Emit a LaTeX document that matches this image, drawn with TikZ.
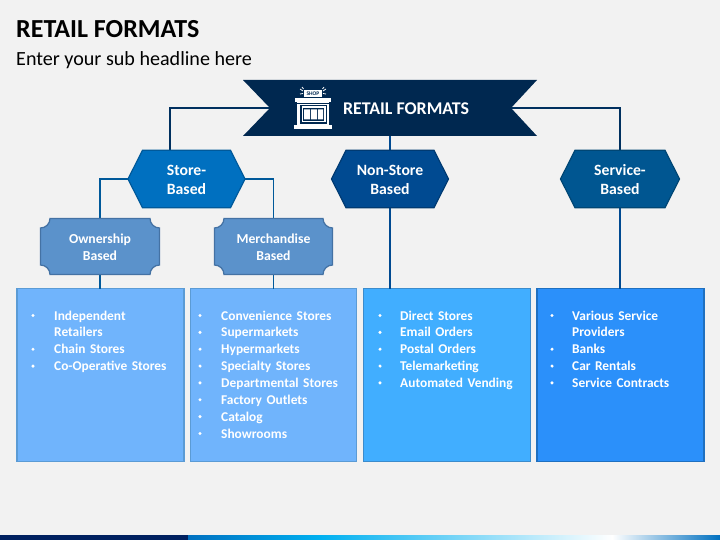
\documentclass[tikz,border=0pt]{standalone}
\usepackage{fontspec}
\setmainfont{Carlito}
\usetikzlibrary{calc}
\definecolor{bg}{HTML}{F2F2F2}
\definecolor{navy}{HTML}{002850}
\definecolor{linenavy}{HTML}{00305F}
\definecolor{hexA}{HTML}{0070C0}
\definecolor{hexAb}{HTML}{00599A}
\definecolor{hexB}{HTML}{004A91}
\definecolor{hexBb}{HTML}{003A72}
\definecolor{hexC}{HTML}{005691}
\definecolor{hexCb}{HTML}{004674}
\definecolor{plq}{HTML}{5B92CB}
\definecolor{plqb}{HTML}{4472A4}
\definecolor{boxA}{HTML}{70B4FC}
\definecolor{boxAb}{HTML}{5B9BD5}
\definecolor{boxC}{HTML}{41AEFF}
\definecolor{boxCb}{HTML}{3C8CCC}
\definecolor{boxD}{HTML}{2B90FA}
\definecolor{boxDb}{HTML}{1F70C0}
\definecolor{barnavy}{HTML}{002060}
\definecolor{barblue}{HTML}{0070C0}
\definecolor{barsky}{HTML}{00B0F0}
\tikzset{
  x=1pt,y=-1pt,
  label text/.style={text=white,font=\bfseries,align=center,inner sep=0pt,outer sep=0pt},
  hexlabel/.style={label text,font=\fontsize{15.7}{18.5}\selectfont\bfseries,minimum width=117pt,minimum height=57.5pt},
  plqlabel/.style={label text,font=\fontsize{13.7}{17}\selectfont\bfseries,minimum width=118pt,minimum height=56pt},
  listbox/.style={draw=#1,line width=1.6pt,minimum height=173pt,inner sep=0pt,outer sep=0pt,anchor=north west},
  connA/.style={draw=linenavy,line width=1.5pt},
  connB/.style={draw=hexAb,line width=1.5pt},
  connC/.style={draw=hexB,line width=1.5pt},
  itemtxt/.style={text=white,font=\fontsize{13.4}{16.85}\selectfont\bfseries,align=left,anchor=north west,inner sep=0pt,text width=#1},
  itemtxt/.default=140pt,
  icon/.style={fill=white,draw=none}
}
\newcommand{\hexshape}[3]{% node, fill, border
  \fill[#2,draw=#3,line width=1.2pt] (#1.west) -- ($(#1.north west)+(14.5,0)$) -- ($(#1.north east)+(-14.5,0)$) -- (#1.east) -- ($(#1.south east)+(-14.5,0)$) -- ($(#1.south west)+(14.5,0)$) -- cycle;}
\newcommand{\plqshape}[1]{%
  \fill[plq,draw=plqb,line width=1.2pt]
   ($(#1.north west)+(9.5,0)$) -- ($(#1.north east)+(-9.5,0)$)
   arc[start angle=180,end angle=270,radius=9.5pt]
   -- ($(#1.south east)+(0,-9.5)$)
   arc[start angle=90,end angle=180,radius=9.5pt]
   -- ($(#1.south west)+(9.5,0)$)
   arc[start angle=0,end angle=90,radius=9.5pt]
   -- ($(#1.north west)+(0,9.5)$)
   arc[start angle=270,end angle=360,radius=9.5pt]
   -- cycle;}
\newcommand{\itembullets}[3]{% x of bullet, first y, list of line numbers
  \foreach \n in {#3}{\fill[white] (#1,{#2+(\n-1)*16.85}) circle[radius=1.7pt];}}
\begin{document}
\begin{tikzpicture}
\useasboundingbox (0,0) rectangle (720,540);
\fill[bg] (0,0) rectangle (720,540);
% footer bar
\fill[barnavy] (0,535) rectangle (188,540);
\shade[left color=barblue,right color=barsky] (188,535) rectangle (320,540);
\shade[left color=barsky,right color=white] (320,535) rectangle (612,540);
\shade[left color=white,right color=barblue] (612,535) rectangle (720,540);
% titles
\node[anchor=west,inner sep=0pt,text=black,font=\fontsize{26}{30}\selectfont\bfseries] (title) at (16,29) {RETAIL FORMATS};
\node[anchor=west,inner sep=0pt,text=black,font=\fontsize{20.1}{24}\selectfont] (subtitle) at (16,60) {Enter your sub headline here};
% node frames (text placed later)
\path node[minimum width=294pt,minimum height=56pt,inner sep=0pt,outer sep=0pt] (banner) at (390,108) {};
\coordinate (bannerL) at (270,108);
\coordinate (bannerR) at (511,108);
\coordinate (storetop) at (170,150);
\path node[hexlabel] (store) at (186.5,179) {};
\path node[hexlabel] (nonstore) at (390,179) {};
\path node[hexlabel,minimum width=119pt] (service) at (620,179) {};
\path node[plqlabel,minimum width=119pt] (owner) at (100,246.5) {};
\path node[plqlabel] (merch) at (273.5,246.5) {};
\node[listbox=boxAb,fill=boxA,minimum width=167pt] (b1) at (17,288.5) {};
\node[listbox=boxAb,fill=boxA,minimum width=166pt] (b2) at (190.5,288.5) {};
\node[listbox=boxCb,fill=boxC,minimum width=167pt] (b3) at (363.5,288.5) {};
\node[listbox=boxDb,fill=boxD,minimum width=167pt] (b4) at (537,288.5) {};
% connectors
\draw[connA] (bannerL) -| (storetop);
\draw[connA] (bannerR) -| (service.north);
\draw[connC] (banner.south) -- (nonstore.north);
\draw[connB] (store.west) -| (owner.north);
\draw[connB] (store.east) -| (merch.north);
\draw[connB] (owner.south) -- (owner.south |- b1.north);
\draw[connB] (merch.south) -- (merch.south |- b2.north);
\draw[connC] (nonstore.south) -- (nonstore.south |- b3.north);
\draw[connC] (service.south) -- (service.south |- b4.north);
% shapes
\fill[navy] (banner.north west) -- (banner.north east) -- (bannerR) -- (banner.south east) -- (banner.south west) -- (bannerL) -- cycle;
\hexshape{store}{hexA}{hexAb}
\hexshape{nonstore}{hexB}{hexBb}
\hexshape{service}{hexC}{hexCb}
\plqshape{owner}
\plqshape{merch}
% labels
\node[label text,font=\fontsize{17.9}{20}\selectfont\bfseries,anchor=west] (bannertext) at (343,108.5) {RETAIL FORMATS};
\node[hexlabel,yshift=-0.7pt] (storetxt) at (store) {Store-\\Based};
\node[hexlabel,yshift=-0.7pt] (nonstoretxt) at (nonstore) {Non-Store\\Based};
\node[hexlabel,yshift=-0.7pt] (servicetxt) at (service) {Service-\\Based};
\node[plqlabel,yshift=-0.8pt] (ownertxt) at (owner) {Ownership\\Based};
\node[plqlabel,yshift=-0.8pt] (merchtxt) at (merch) {Merchandise\\Based};
% shop icon
\fill[icon] (294,125) rectangle (332,129);
\fill[icon] (297,102) rectangle (329,125);
\fill[icon] (295,98) rectangle (331,102);
\fill[navy] (297,102.6) rectangle (329,103.4);
\fill[navy] (300,105) rectangle (327,124);
\fill[icon] (301.5,106.5) rectangle (325.5,122.5);
\fill[navy] (303,108) rectangle (324,121);
\fill[icon] (304,109.5) rectangle (310,119.5) (311,109.5) rectangle (317,119.5) (318,109.5) rectangle (323,119.5);
\fill[icon] (304,90) rectangle (322,97);
\node[text=navy,font=\fontsize{5.5}{5.5}\selectfont\bfseries,inner sep=0pt] (shopsign) at (313,93.5) {SHOP};
\draw[white,line width=0.8pt] (300,89) -- (303,91) (300,94) -- (303,93.5) (302,87) -- (303.5,89) (326,89) -- (323,91) (326,94) -- (323,93.5) (324,87) -- (322.5,89);
% list texts
\itembullets{33}{315.5}{1,3,4}
\node[itemtxt=118pt] (t1) at (54,310.5) {Independent\\Retailers\\Chain Stores\\Co-Operative Stores};
\itembullets{200}{315.5}{1,...,8}
\node[itemtxt] (t2) at (221,310.5) {Convenience Stores\\Supermarkets\\Hypermarkets\\Specialty Stores\\Departmental Stores\\Factory Outlets\\Catalog\\Showrooms};
\itembullets{380}{315.5}{1,...,5}
\node[itemtxt] (t3) at (400,310.5) {Direct Stores\\Email Orders\\Postal Orders\\Telemarketing\\Automated Vending};
\itembullets{552}{315.5}{1,3,4,5}
\node[itemtxt=125pt] (t4) at (572,310.5) {Various Service\\Providers\\Banks\\Car Rentals\\Service Contracts};
\end{tikzpicture}
\end{document}
